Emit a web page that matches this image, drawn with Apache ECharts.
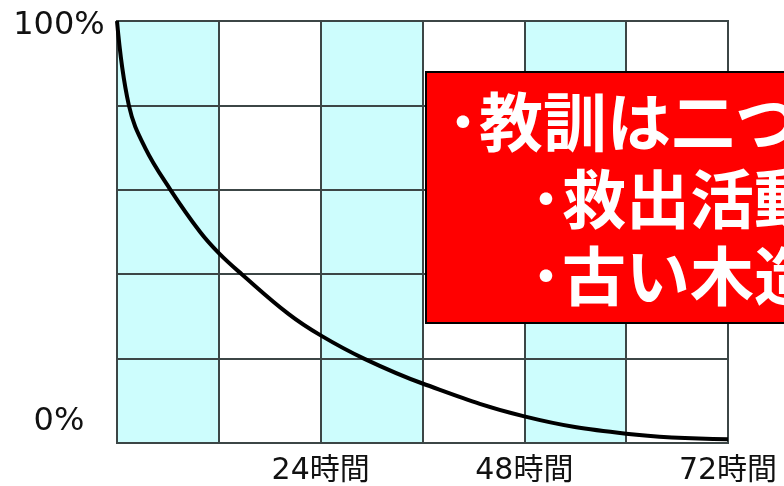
<!DOCTYPE html>
<html>
<head>
<meta charset="utf-8">
<script src="https://cdn.jsdelivr.net/npm/echarts@6/dist/echarts.min.js"></script>
<style>
  html, body { margin: 0; padding: 0; background: #fff; }
  #main { width: 784px; height: 486px; }
</style>
</head>
<body>
<div id="main"></div>
<script>
// 経過時間(時間)と生存率(%)
var hours = [0, 1.4, 3.3, 6.3, 9.8, 12, 14.7, 20.2, 24, 29.1, 36, 48, 60, 72];
var survival = [100, 80, 70, 60, 50, 45, 40, 30.6, 25.5, 20, 14.1, 6.3, 2.2, 0.9];
var xTickLabels = [24, 48, 72];
var yTickLabels = [0, 100];
var boxLines = ['･教訓は二つ', '･救出活動', '･古い木造'];

var chart = echarts.init(document.getElementById('main'));

var gridLineColor = '#3c4646';

chart.setOption({
  animation: false,
  backgroundColor: '#ffffff',
  grid: {
    left: 117,
    top: 21,
    width: 611,
    height: 423,
    show: true,
    borderColor: gridLineColor,
    borderWidth: 2,
    backgroundColor: 'transparent'
  },
  xAxis: {
    type: 'value',
    z: 0,
    min: 0,
    max: 72,
    interval: 12,
    axisLine: { show: true, lineStyle: { color: gridLineColor, width: 2 } },
    axisTick: { show: false },
    splitLine: { show: true, lineStyle: { color: gridLineColor, width: 2 } },
    splitArea: { show: true, areaStyle: { color: ['#cdfdfd', 'rgba(255,255,255,0)'] } },
    axisLabel: {
      margin: 13,
      fontSize: 30,
      color: '#111',
      fontFamily: 'DejaVu Sans, Noto Sans CJK JP',
      formatter: function (v) {
        return xTickLabels.indexOf(v) >= 0 ? v + '時間' : '';
      }
    }
  },
  yAxis: {
    type: 'value',
    z: 1,
    min: 0,
    max: 100,
    interval: 20,
    axisLine: { show: true, lineStyle: { color: gridLineColor, width: 2 } },
    axisTick: { show: false },
    splitLine: { show: true, lineStyle: { color: gridLineColor, width: 2 } },
    axisLabel: {
      margin: 58,
      align: 'center',
      fontSize: 32,
      color: '#111',
      fontFamily: 'DejaVu Sans',
      formatter: function (v) {
        if (yTickLabels.indexOf(v) < 0) return '';
        return v === 0 ? '{z|0%}' : '{t|' + v + '%}';
      },
      rich: {
        z: { fontSize: 32, color: '#111', fontFamily: 'DejaVu Sans', padding: [0, 0, 42, 0] },
        t: { fontSize: 32, color: '#111', fontFamily: 'DejaVu Sans', padding: [10, 0, 0, 0] }
      }
    }
  },
  series: [{
    type: 'line',
    z: 5,
    data: hours.map(function (h, i) { return [h, survival[i]]; }),
    smooth: 0.4,
    showSymbol: false,
    clip: false,
    lineStyle: { color: '#000', width: 4 }
  }],
  graphic: [{
    type: 'rect',
    z: 100,
    shape: { x: 426, y: 72, width: 420, height: 251 },
    style: { fill: '#ff0000', stroke: '#000', lineWidth: 2 }
  }, {
    type: 'text',
    z: 101,
    x: 447, y: 122,
    style: { text: boxLines[0], fill: '#fff', font: 'bold 64px "Noto Sans CJK JP"', verticalAlign: 'middle' }
  }, {
    type: 'text',
    z: 101,
    x: 530, y: 199,
    style: { text: boxLines[1], fill: '#fff', font: 'bold 64px "Noto Sans CJK JP"', verticalAlign: 'middle' }
  }, {
    type: 'text',
    z: 101,
    x: 530, y: 276,
    style: { text: boxLines[2], fill: '#fff', font: 'bold 64px "Noto Sans CJK JP"', verticalAlign: 'middle' }
  }]
});
</script>
</body>
</html>
